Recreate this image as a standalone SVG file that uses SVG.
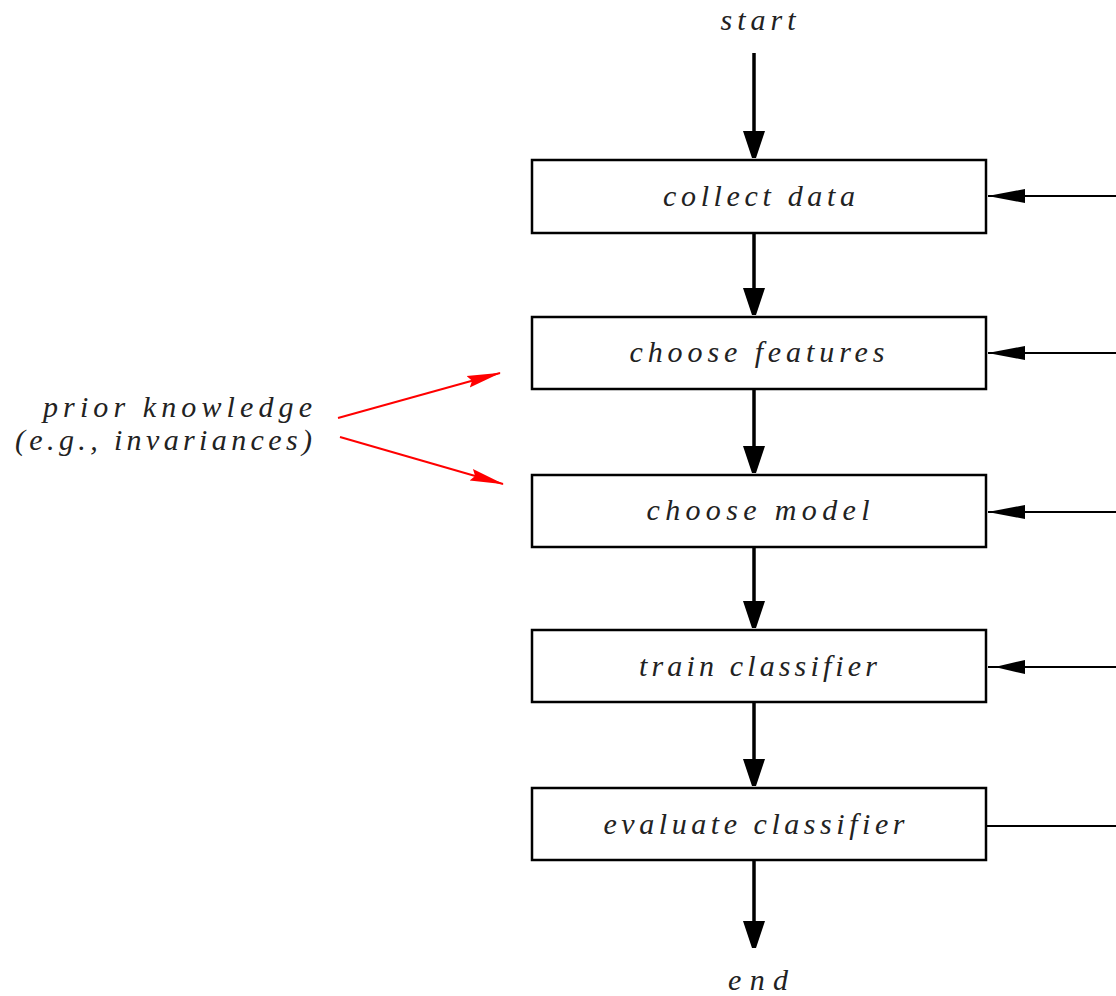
<svg xmlns="http://www.w3.org/2000/svg" width="1116" height="996" viewBox="0 0 1116 996">
<style>
.box{fill:#fff;stroke:#000;stroke-width:2.5}
text{font-family:"Liberation Serif","DejaVu Serif",serif;font-style:italic;font-size:30px;fill:#222}
.t{text-anchor:middle}
.v{stroke:#000;stroke-width:3.5;fill:none}
.h{stroke:#000;stroke-width:2;fill:none}
.r{stroke:#f00;stroke-width:2;fill:none}
</style>
<defs>
<marker id="ad" markerUnits="userSpaceOnUse" markerWidth="28" markerHeight="26" refX="27" refY="13" orient="auto" viewBox="0 0 28 26">
<polygon points="0,2 0,24 27,15 27,11" fill="#000"/>
</marker>
<marker id="ar" markerUnits="userSpaceOnUse" markerWidth="34" markerHeight="18" refX="33" refY="9" orient="auto" viewBox="0 0 34 18">
<polygon points="0,3 34,9 0,15 4,9" fill="#f00"/>
</marker>
</defs>
<g id="connectors">
<line class="v" x1="754" y1="53" x2="754" y2="158" marker-end="url(#ad)"/>
<line class="v" x1="754" y1="233" x2="754" y2="315" marker-end="url(#ad)"/>
<line class="v" x1="754" y1="389" x2="754" y2="473" marker-end="url(#ad)"/>
<line class="v" x1="754" y1="547" x2="754" y2="628" marker-end="url(#ad)"/>
<line class="v" x1="754" y1="702" x2="754" y2="786" marker-end="url(#ad)"/>
<line class="v" x1="754" y1="860" x2="754" y2="948" marker-end="url(#ad)"/>
<line class="h" x1="1116" y1="196" x2="988" y2="196"/>
<line class="h" x1="1116" y1="353" x2="988" y2="353"/>
<line class="h" x1="1116" y1="512" x2="988" y2="512"/>
<line class="h" x1="1116" y1="667" x2="988" y2="667"/>
<line class="h" x1="986" y1="826" x2="1116" y2="826"/>
<polygon points="993,195 993,197 1025,203 1025,189" fill="#000"/>
<polygon points="993,352 993,354 1025,360 1025,346" fill="#000"/>
<polygon points="993,511 993,513 1025,519 1025,505" fill="#000"/>
<polygon points="999,666 999,668 1025,674 1025,660" fill="#000"/>
<line class="r" x1="338" y1="418" x2="500" y2="373" marker-end="url(#ar)"/>
<line class="r" x1="340" y1="437" x2="503" y2="484" marker-end="url(#ar)"/>
</g>
<g id="start"><text class="t" x="758" y="30" textLength="75" lengthAdjust="spacing">start</text></g>
<g id="collect"><rect class="box" x="532" y="160" width="454" height="73"/><text class="t" x="759" y="206" textLength="192" lengthAdjust="spacing">collect data</text></g>
<g id="features"><rect class="box" x="532" y="317" width="454" height="72"/><text class="t" x="757" y="362" textLength="255" lengthAdjust="spacing">choose features</text></g>
<g id="model"><rect class="box" x="532" y="475" width="454" height="72"/><text class="t" x="758" y="520" textLength="223" lengthAdjust="spacing">choose model</text></g>
<g id="train"><rect class="box" x="532" y="630" width="454" height="72"/><text class="t" x="758" y="676" textLength="238" lengthAdjust="spacing">train classifier</text></g>
<g id="evaluate"><rect class="box" x="532" y="788" width="454" height="72"/><text class="t" x="754" y="834" textLength="301" lengthAdjust="spacing">evaluate classifier</text></g>
<g id="end"><text class="t" x="758" y="990" textLength="60" lengthAdjust="spacing">end</text></g>
<g id="prior"><text x="43" y="417" textLength="269" lengthAdjust="spacing">prior knowledge</text><text x="15" y="450" textLength="297" lengthAdjust="spacing">(e.g., invariances)</text></g>
</svg>
